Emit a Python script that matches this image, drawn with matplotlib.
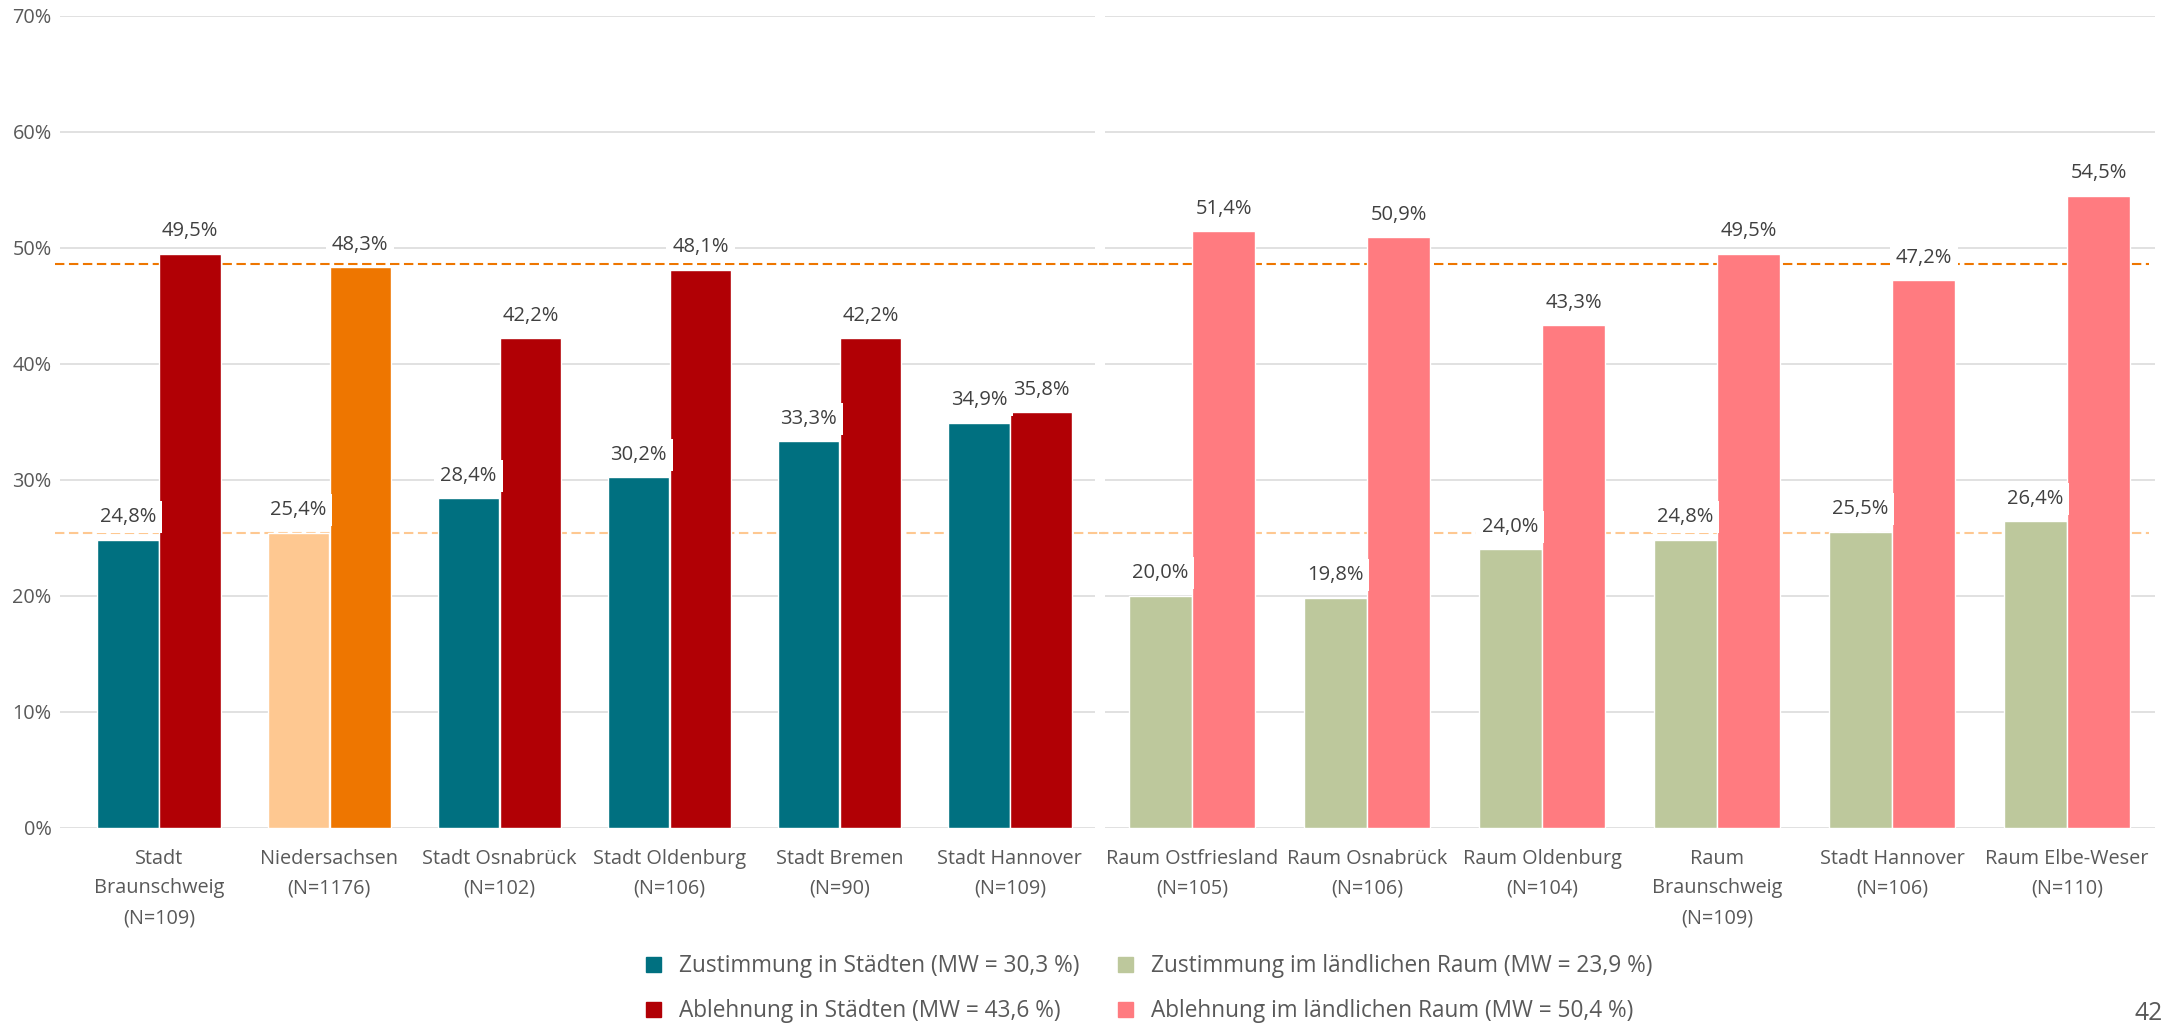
import matplotlib
matplotlib.use("Agg")
import matplotlib.pyplot as plt
from matplotlib.lines import Line2D

plt.rcParams['font.family'] = ['Open Sans', 'DejaVu Sans']

W, H = 2174, 1024

CITY_LABELS = ["Stadt\nBraunschweig\n(N=109)", "Niedersachsen\n(N=1176)", "Stadt Osnabrück\n(N=102)",
               "Stadt Oldenburg\n(N=106)", "Stadt Bremen\n(N=90)", "Stadt Hannover\n(N=109)"]
CITY_YES = [24.8, 25.4, 28.4, 30.2, 33.3, 34.9]
CITY_NO = [49.5, 48.3, 42.2, 48.1, 42.2, 35.8]

RURAL_LABELS = ["Raum Ostfriesland\n(N=105)", "Raum Osnabrück\n(N=106)", "Raum Oldenburg\n(N=104)",
                "Raum\nBraunschweig\n(N=109)", "Stadt Hannover\n(N=106)", "Raum Elbe-Weser\n(N=110)"]
RURAL_YES = [20.0, 19.8, 24.0, 24.8, 25.5, 26.4]
RURAL_NO = [51.4, 50.9, 43.3, 49.5, 47.2, 54.5]

LEGEND_LABELS = ["Zustimmung in Städten (MW = 30,3 %)", "Ablehnung in Städten (MW = 43,6 %)",
                 "Zustimmung im ländlichen Raum (MW = 23,9 %)", "Ablehnung im ländlichen Raum (MW = 50,4 %)"]

# reference lines (Niedersachsen level)
REF_LINES = [25.4, 48.6]

TEAL = "#007080"
DARKRED = "#B10005"
ORANGE = "#EE7600"
LIGHTORANGE = "#FEC891"
GREEN = "#BDC89C"
PINK = "#FF7B80"
TEXT = "#404040"
TICK = "#595959"
GRID = "#D9D9D9"

BAR_W = 0.36
OFF = 0.182


def fmt(v):
    return "{0:.1f}%".format(v).replace(".", ",")


def label_bar(ax, x, v):
    ax.annotate(fmt(v), (x, v), xytext=(0, 16.3), textcoords="offset points",
                ha="center", va="center", fontsize=14.5, color=TEXT, zorder=6,
                bbox=dict(boxstyle="square,pad=0.3", fc="white", ec="none"))


def draw_group(ax, labels, yes, no, yes_colors, no_colors):
    x = list(range(len(labels)))
    ax.bar([i - OFF for i in x], yes, width=BAR_W, color=yes_colors, edgecolor="white", linewidth=1.0, zorder=3)
    ax.bar([i + OFF for i in x], no, width=BAR_W, color=no_colors, edgecolor="white", linewidth=1.0, zorder=3)
    for i in x:
        label_bar(ax, i - OFF, yes[i])
        label_bar(ax, i + OFF, no[i])
    ax.set_xticks(x)
    ax.set_xticklabels(labels, fontsize=14.3, color=TICK, linespacing=1.65)
    ax.set_ylim(0, 70)
    ax.set_yticks(range(0, 71, 10))
    ax.yaxis.grid(True, color=GRID, linewidth=1.1, zorder=0)
    ax.set_axisbelow(True)
    for s in ax.spines.values():
        s.set_visible(False)
    ax.tick_params(axis="x", length=0, pad=15)
    ax.tick_params(axis="y", length=0, pad=6, labelsize=14.3, labelcolor=TICK)


fig = plt.figure(figsize=(W / 100, H / 100), dpi=100)

bottom = (H - 827.7) / H
height = (827.7 - 15.7) / H
ax1 = fig.add_axes([60 / W, bottom, (1095 - 60) / W, height])
ax2 = fig.add_axes([1104.5 / W, bottom, (2154.5 - 1104.5) / W, height])

draw_group(ax1, CITY_LABELS, CITY_YES, CITY_NO,
           [TEAL, LIGHTORANGE] + [TEAL] * 4, [DARKRED, ORANGE] + [DARKRED] * 4)
draw_group(ax2, RURAL_LABELS, RURAL_YES, RURAL_NO, [GREEN] * 6, [PINK] * 6)

ax1.set_xlim(-0.582, 5.5)
ax2.set_xlim(-0.5, 5.5)
ax1.set_yticklabels(["{0}%".format(t) for t in range(0, 71, 10)])
ax2.set_yticklabels([])

for y, c in zip(REF_LINES, [LIGHTORANGE, ORANGE]):
    ax1.axhline(y, xmin=-0.005, xmax=1.01, color=c, linewidth=1.5, dashes=(4.5, 2.2), zorder=2, clip_on=False)
    ax2.axhline(y, xmin=-0.005, xmax=0.995, color=c, linewidth=1.5, dashes=(4.5, 2.2), zorder=2, clip_on=False)

handles = [Line2D([], [], marker="s", linestyle="none", markersize=10.8, color=c)
           for c in [TEAL, DARKRED, GREEN, PINK]]
fig.legend(handles, LEGEND_LABELS, loc="center", bbox_to_anchor=(0.5283, 1 - 988.5 / H), ncol=2,
           frameon=False, fontsize=16.3, labelcolor=TICK, handlelength=0.7, handletextpad=0.8,
           columnspacing=1.64, labelspacing=0.9, borderpad=0)

fig.text(2163 / W, 1 - 1013.5 / H, "42", ha="right", va="center", fontsize=17.7, color=TICK)

fig.savefig("out.png", dpi=100)
